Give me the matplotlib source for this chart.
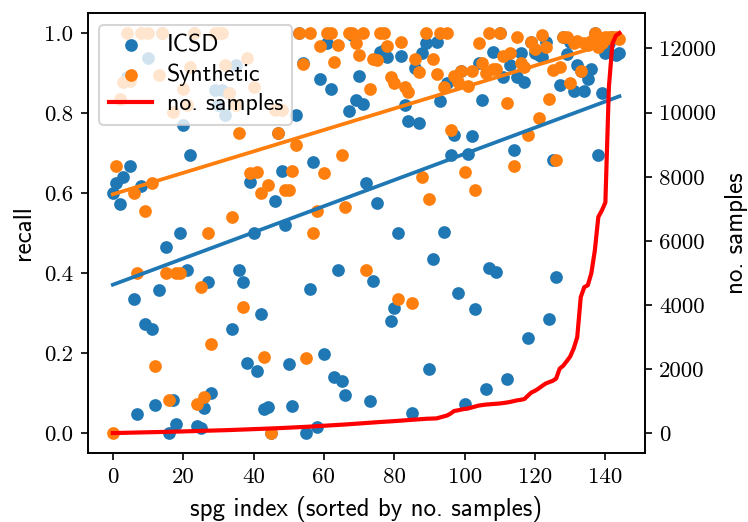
import numpy as np
import matplotlib
matplotlib.use('Agg')
import matplotlib.pyplot as plt

# recall per space group (sorted by number of training samples)
recall_icsd = [
    0.600, 0.625, 0.572, 0.640, 0.890, 0.667, 0.334, 0.047, 0.617, 0.272,
    0.937, 0.259, 0.071, 0.358, 1.000, 0.466, 0.000, 0.083, 0.023, 0.501,
    0.769, 0.407, 0.694, 1.000, 0.018, 0.012, 0.062, 0.377, 0.099, 0.857,
    0.820, 0.857, 0.794, 0.850, 0.261, 0.920, 0.408, 0.378, 0.176, 0.627,
    0.501, 0.155, 0.297, 0.059, 0.064, 0.000, 0.581, 0.750, 0.655, 0.520,
    0.172, 0.068, 0.796, 1.000, 0.924, 0.000, 0.360, 0.677, 0.015, 0.885,
    0.197, 0.974, 0.859, 0.139, 0.408, 0.130, 0.095, 0.805, 0.995, 0.832,
    0.893, 0.822, 0.625, 0.080, 0.381, 0.575, 0.953, 0.957, 0.941, 0.281,
    0.313, 0.501, 0.942, 0.820, 0.780, 0.051, 0.912, 0.775, 0.949, 0.974,
    0.161, 0.435, 0.977, 0.830, 0.502, 0.876, 0.694, 0.744, 0.351, 0.906,
    0.072, 0.698, 0.742, 0.309, 0.924, 0.832, 0.109, 0.412, 0.952, 0.402,
    1.000, 0.890, 0.134, 0.920, 0.707, 0.890, 0.950, 0.878, 0.237, 0.978,
    0.950, 0.945, 0.940, 0.978, 0.285, 0.682, 0.391, 0.870, 0.990, 0.947,
    0.978, 0.855, 0.920, 0.906, 0.855, 0.884, 0.911, 1.000, 0.694, 0.851,
    0.949, 0.974, 0.990, 0.945, 0.950]

recall_synth = [
    0.000, 0.667, 0.836, 0.878, 1.000, 0.880, 0.600, 0.400, 1.000, 0.555,
    1.000, 0.625, 0.167, 0.895, 1.000, 0.400, 0.083, 0.803, 0.400, 0.400,
    0.860, 0.820, 0.916, 1.000, 0.072, 0.364, 0.091, 0.501, 0.222, 1.000,
    1.000, 1.000, 0.920, 0.850, 0.539, 0.820, 0.750, 0.314, 0.937, 0.650,
    0.866, 0.652, 0.601, 0.191, 0.621, 0.000, 0.807, 0.750, 0.807, 0.608,
    0.608, 0.655, 0.721, 1.000, 0.922, 0.187, 1.000, 0.501, 0.555, 0.967,
    0.650, 1.000, 1.000, 0.928, 0.970, 0.694, 0.565, 1.000, 1.000, 0.974,
    0.945, 1.000, 0.408, 0.861, 0.934, 0.932, 1.000, 1.000, 0.967, 0.890,
    0.875, 0.334, 0.978, 0.866, 0.853, 0.324, 0.934, 0.903, 0.640, 1.000,
    0.586, 0.934, 0.897, 1.000, 0.864, 1.000, 0.757, 0.892, 0.878, 0.906,
    0.652, 0.867, 0.906, 0.607, 0.976, 0.926, 0.900, 1.000, 0.910, 0.910,
    1.000, 0.942, 0.824, 0.950, 0.667, 0.990, 0.924, 0.916, 0.744, 0.978,
    0.960, 0.788, 0.995, 0.966, 0.834, 0.907, 0.682, 0.916, 0.990, 0.990,
    0.876, 0.975, 0.980, 0.906, 0.975, 0.970, 0.980, 1.000, 0.966, 0.975,
    0.990, 0.990, 0.990, 0.990, 0.985]

# number of samples per space group (ascending)
n_samples = [
    12, 15, 18, 20, 22, 25, 28, 30, 33, 35,
    38, 40, 42, 45, 48, 50, 52, 55, 58, 60,
    63, 66, 70, 73, 76, 80, 83, 86, 90, 93,
    96, 100, 103, 106, 110, 114, 118, 121, 125, 129,
    133, 137, 141, 145, 150, 155, 160, 165, 170, 175,
    180, 185, 190, 196, 202, 208, 215, 222, 230, 236,
    242, 248, 254, 260, 266, 272, 280, 288, 296, 304,
    312, 320, 328, 336, 344, 352, 358, 364, 370, 378,
    386, 394, 400, 408, 415, 425, 435, 442, 450, 458,
    462, 466, 470, 500, 530, 560, 620, 700, 720, 745,
    765, 780, 810, 840, 870, 885, 900, 910, 918, 925,
    935, 950, 965, 985, 1010, 1035, 1050, 1075, 1180, 1280,
    1330, 1400, 1480, 1555, 1600, 1640, 1710, 2020, 2110, 2250,
    2400, 2650, 3000, 4250, 4560, 4620, 4990, 5700, 6750, 6950,
    7200, 10800, 12150, 12400, 12480]

plt.rcParams['font.family'] = 'cmss10'
plt.rcParams['font.size'] = 12
plt.rcParams['axes.unicode_minus'] = False

idx = np.arange(len(recall_icsd))

fig, ax = plt.subplots(figsize=(748 / 150, 522 / 150), dpi=150)
fig.subplots_adjust(left=0.117, right=0.862, bottom=0.132, top=0.975)

ax.scatter(idx, recall_icsd, s=26, color='C0', label='ICSD', zorder=2)
ax.scatter(idx, recall_synth, s=26, color='C1', label='Synthetic', zorder=2)

# linear fits
for vals, c in [(recall_icsd, 'C0'), (recall_synth, 'C1')]:
    k, d = np.polyfit(idx, vals, 1)
    ax.plot(idx, k * idx + d, color=c, lw=1.8, zorder=3)

ax.set_xlabel('spg index (sorted by no. samples)')
ax.set_ylabel('recall')

ax2 = ax.twinx()
ax2.plot(idx, n_samples, color='red', lw=2, label='no. samples')
ax2.set_ylabel('no. samples')

h1, l1 = ax.get_legend_handles_labels()
h2, l2 = ax2.get_legend_handles_labels()
ax2.legend(h1 + h2, l1 + l2, loc='upper left', fontsize=11.5,
           labelspacing=0.3, handlelength=1.8, handletextpad=0.6)

ax.tick_params(labelfontfamily='cmr10', labelsize=11)
ax2.tick_params(labelfontfamily='cmr10', labelsize=11)

fig.savefig('out.png', dpi=150)
